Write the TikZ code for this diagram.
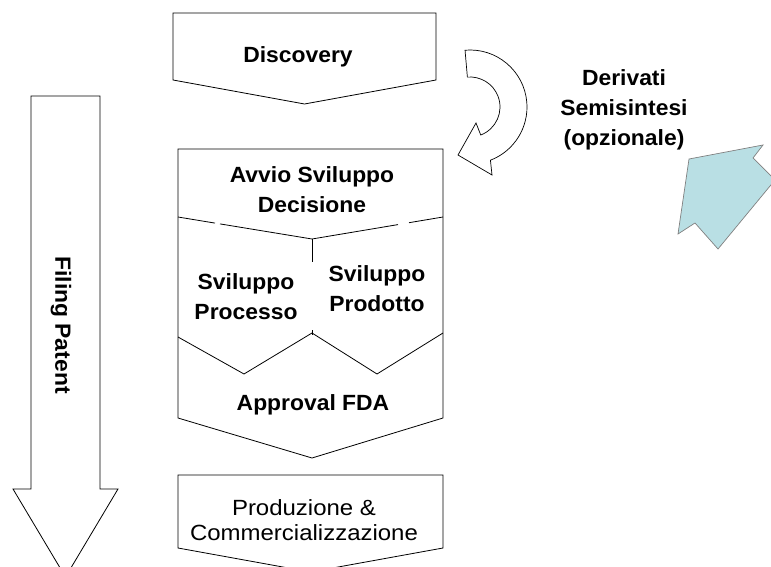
\documentclass[tikz,border=0pt]{standalone}
\usepackage{fontspec}
\newfontfamily\lab{Liberation Sans}[FakeStretch=1.04]
\newfontfamily\labplain{Liberation Sans}[FakeStretch=1.09]
\definecolor{cyanfill}{RGB}{185,223,228}
\definecolor{cyanedge}{RGB}{128,128,128}
\begin{document}
\begin{tikzpicture}[x=1pt,y=-1pt,
  shapeline/.style={draw=black,line width=0.8pt,line join=miter,fill=white},
  bold/.style={align=center,inner sep=0pt,font=\lab\bfseries\fontsize{22}{30}\selectfont},
  plain/.style={align=center,inner sep=0pt,font=\labplain\fontsize{22}{24.5}\selectfont}]
\useasboundingbox (0,0) rectangle (771,567);
\clip (0,0) rectangle (771,567);
% Filing Patent arrow
\path[shapeline] (31,96) -- (100,96) -- (100,489) -- (118,489) -- (65.5,577) -- (13,489) -- (31,489) -- cycle;
\node[bold,rotate=-90] (patent) at (61,325) {Filing Patent};
% Discovery
\path[shapeline] (173,13) -- (436,13) -- (436,80) -- (304.5,104) -- (173,80) -- cycle;
\node[bold] (disc) at (298,57) {Discovery};
% curved arrow
\begin{scope}[shift={(470,107)},x=1pt,y=1pt]
\path[shapeline,line width=0.7pt] (95:57) arc[start angle=95,end angle=-69,radius=57]
  -- (22,-68) -- (-12,-48) -- (6,-16) -- (-69:30)
  arc[start angle=-69,end angle=95,radius=30] -- cycle;
\end{scope}
\node[bold] (deriv) at (624,110) {Derivati\\Semisintesi\\(opzionale)};
% cyan arrow
\path[fill=cyanfill,draw=cyanedge,line width=0.7pt] (689,159) -- (763,145) -- (753,158) -- (775,180)
  -- (718,249) -- (695,223) -- (678,234) -- cycle;
% big development box
\path[shapeline] (178,418) -- (178,149) -- (443,149) -- (443,418) -- (312,458) -- cycle;
\draw[line width=0.8pt] (178,217) -- (215,223.1);
\draw[line width=0.8pt] (220,223.9) -- (312,239) -- (398,224.6);
\draw[line width=0.8pt] (409,222.7) -- (443,217);
\draw[line width=0.8pt] (312,239) -- (312,262);
\draw[line width=0.8pt] (312,330) -- (312,335);
\draw[line width=0.8pt] (178,337) -- (244,374) -- (312,333) -- (377,374) -- (443,333);
\node[bold] (avvio) at (312,190) {Avvio Sviluppo\\Decisione};
\node[bold] (proc) at (246,297) {Sviluppo\\Processo};
\node[bold] (prod) at (377,289) {Sviluppo\\Prodotto};
\node[bold] (fda) at (313,405) {Approval FDA};
% production box
\path[shapeline] (178,475) -- (443,475) -- (443,548) -- (310.5,572) -- (178,548) -- cycle;
\node[plain] (comm) at (304,520) {Produzione \&\\Commercializzazione};
\end{tikzpicture}
\end{document}
